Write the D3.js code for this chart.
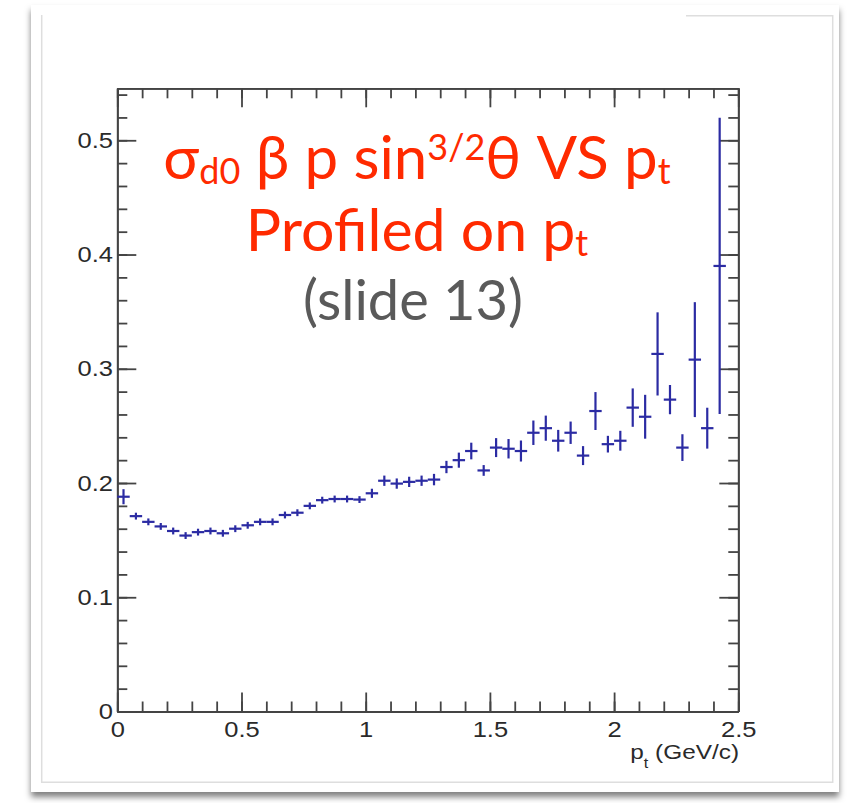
<!DOCTYPE html>
<html>
<head>
<meta charset="utf-8">
<script src="https://cdn.jsdelivr.net/npm/d3@7"></script>
<style>
  html, body { margin: 0; padding: 0; background: #fff; }
  svg { display: block; }
</style>
</head>
<body>
<div id="chart"></div>
<script>
// ────────────────────────────────────────────────────────────────────────────
// data (0.05 GeV/c bins)
// ────────────────────────────────────────────────────────────────────────────
const binWidth = 0.05;
const binCenters = [
  0.025, 0.075, 0.125, 0.175, 0.225, 0.275, 0.325, 0.375, 0.425, 0.475,
  0.525, 0.575, 0.625, 0.675, 0.725, 0.775, 0.825, 0.875, 0.925, 0.975,
  1.025, 1.075, 1.125, 1.175, 1.225, 1.275, 1.325, 1.375, 1.425, 1.475,
  1.525, 1.575, 1.625, 1.675, 1.725, 1.775, 1.825, 1.875, 1.925, 1.975,
  2.025, 2.075, 2.125, 2.175, 2.225, 2.275, 2.325, 2.375, 2.425
];
const profMean = [
  0.188, 0.171, 0.166, 0.162, 0.158, 0.154, 0.157, 0.158, 0.156, 0.160,
  0.163, 0.166, 0.166, 0.172, 0.174, 0.180, 0.185, 0.186, 0.186, 0.1855,
  0.191, 0.202, 0.1995, 0.201, 0.202, 0.203, 0.214, 0.220, 0.228, 0.211,
  0.231, 0.230, 0.228, 0.244, 0.248, 0.237, 0.244, 0.224, 0.263, 0.234,
  0.237, 0.266, 0.258, 0.313, 0.273, 0.231, 0.308, 0.248, 0.390
];
const profErr = [
  0.0066, 0.003, 0.003, 0.003, 0.003, 0.003, 0.003, 0.003, 0.003, 0.003,
  0.003, 0.003, 0.003, 0.003, 0.003, 0.003, 0.003, 0.003, 0.003, 0.003,
  0.004, 0.0045, 0.0045, 0.0045, 0.0045, 0.005, 0.0054, 0.0066, 0.0073, 0.0047,
  0.0083, 0.0085, 0.0092, 0.0107, 0.011, 0.0095, 0.0098, 0.0083, 0.0166, 0.0073,
  0.0087, 0.0168, 0.0192, 0.0364, 0.0128, 0.0117, 0.0503, 0.0179, 0.1297
];

const xTicks      = [0, 0.5, 1, 1.5, 2, 2.5];
const xTickLabels = ["0", "0.5", "1", "1.5", "2", "2.5"];
const yTicks      = [0, 0.1, 0.2, 0.3, 0.4, 0.5];
const yTickLabels = ["0", "0.1", "0.2", "0.3", "0.4", "0.5"];

const titleLine2 = "Profiled on p";
const titleLine3 = "(slide 13)";

// ────────────────────────────────────────────────────────────────────────────
// canvas
// ────────────────────────────────────────────────────────────────────────────
const W = 851, H = 803;
const svg = d3.select("#chart").append("svg")
  .attr("width", W).attr("height", H);

// photo frame with drop shadow
const defs = svg.append("defs");
defs.append("filter")
    .attr("id", "shadow")
    .attr("x", "-5%").attr("y", "-5%")
    .attr("width", "110%").attr("height", "112%")
  .append("feDropShadow")
    .attr("dx", 0).attr("dy", 5)
    .attr("stdDeviation", 3)
    .attr("flood-color", "#000")
    .attr("flood-opacity", 0.5);

svg.append("rect")
  .attr("x", 31).attr("y", 5)
  .attr("width", 808).attr("height", 787)
  .attr("fill", "#fff")
  .attr("filter", "url(#shadow)");

// inner thin border of the pasted image
const border = svg.append("g")
  .attr("stroke", "#dedede").attr("stroke-width", 1.5).attr("fill", "none");
border.append("path").attr("d", "M41.7,15 V782.3 H832.7 V15.7 H686");

// ────────────────────────────────────────────────────────────────────────────
// scales
// ────────────────────────────────────────────────────────────────────────────
const x = d3.scaleLinear().domain([0, 2.5]).range([117.3, 738.3]);
const y = d3.scaleLinear().domain([0, 0.5455]).range([711.5, 88.3]);

const axisColor = "#444";
const textColor = "#2a2a2a";
const stretch = 1.16;   // ROOT text looks a little wide

function styleAxis(g) {
  g.select(".domain").attr("stroke", axisColor).attr("stroke-width", 1.8);
  g.selectAll(".tick line").attr("stroke", axisColor).attr("stroke-width", 1.8);
  g.selectAll("text")
    .attr("fill", textColor)
    .style("font-family", "'Liberation Sans', Arial, sans-serif")
    .style("font-size", "22px");
}

const xMinor = d3.range(0, 2.51, 0.1);
const yMinor = d3.range(0, 0.545, 0.02);

// bottom
svg.append("g")
  .attr("transform", `translate(0,${y(0)})`)
  .call(d3.axisBottom(x).tickValues(xMinor).tickSize(-10).tickSizeOuter(0).tickFormat(""))
  .call(styleAxis);
const gxb = svg.append("g")
  .attr("transform", `translate(0,${y(0)})`)
  .call(d3.axisBottom(x).tickValues(xTicks).tickSize(-19).tickSizeOuter(0)
    .tickPadding(10).tickFormat((d, i) => xTickLabels[i]))
  .call(styleAxis);
gxb.selectAll("text").attr("transform", `scale(${stretch},1)`);

// top
svg.append("g")
  .attr("transform", `translate(0,${y.range()[1]})`)
  .call(d3.axisTop(x).tickValues(xMinor).tickSize(-10).tickSizeOuter(0).tickFormat(""))
  .call(styleAxis);
svg.append("g")
  .attr("transform", `translate(0,${y.range()[1]})`)
  .call(d3.axisTop(x).tickValues(xTicks).tickSize(-19).tickSizeOuter(0).tickFormat(""))
  .call(styleAxis);

// left
svg.append("g")
  .attr("transform", `translate(${x(0)},0)`)
  .call(d3.axisLeft(y).tickValues(yMinor).tickSize(-10).tickSizeOuter(0).tickFormat(""))
  .call(styleAxis);
const gyl = svg.append("g")
  .attr("transform", `translate(${x(0)},0)`)
  .call(d3.axisLeft(y).tickValues(yTicks).tickSize(-19).tickSizeOuter(0)
    .tickPadding(3.7).tickFormat((d, i) => yTickLabels[i]))
  .call(styleAxis);
gyl.selectAll("text").attr("transform", `scale(${stretch},1)`);

// right
svg.append("g")
  .attr("transform", `translate(${x(2.5)},0)`)
  .call(d3.axisRight(y).tickValues(yMinor).tickSize(-10).tickSizeOuter(0).tickFormat(""))
  .call(styleAxis);
svg.append("g")
  .attr("transform", `translate(${x(2.5)},0)`)
  .call(d3.axisRight(y).tickValues(yTicks).tickSize(-19).tickSizeOuter(0).tickFormat(""))
  .call(styleAxis);

// x axis title
const xt = svg.append("text")
  .attr("transform", `translate(739,759) scale(${stretch},1)`)
  .attr("text-anchor", "end")
  .attr("fill", textColor)
  .style("font-family", "'Liberation Sans', Arial, sans-serif")
  .style("font-size", "21px");
xt.append("tspan").text("p");
xt.append("tspan").attr("dy", 9).style("font-size", "14px").text("t");
xt.append("tspan").attr("dy", -9).text(" (GeV/c)");

// ────────────────────────────────────────────────────────────────────────────
// profile points: bin-width bar + error bar
// ────────────────────────────────────────────────────────────────────────────
const pts = binCenters.map((c, i) => ({ c, m: profMean[i], e: profErr[i] }));
const markG = svg.append("g")
  .attr("stroke", "#2b2ba3")
  .attr("stroke-width", 2.2)
  .attr("fill", "none");

markG.selectAll("line.h")
  .data(pts).enter().append("line")
    .attr("class", "h")
    .attr("x1", d => x(d.c - binWidth / 2))
    .attr("x2", d => x(d.c + binWidth / 2))
    .attr("y1", d => y(d.m))
    .attr("y2", d => y(d.m));

markG.selectAll("line.v")
  .data(pts).enter().append("line")
    .attr("class", "v")
    .attr("x1", d => x(d.c))
    .attr("x2", d => x(d.c))
    .attr("y1", d => y(d.m - d.e))
    .attr("y2", d => y(d.m + d.e));

// ────────────────────────────────────────────────────────────────────────────
// slide annotation
// ────────────────────────────────────────────────────────────────────────────
const red = "#ff2a00";
const titleFont = "Lato, 'Open Sans', sans-serif";
const cx = 417;
const fs = 59, fsSub = 36;

const t1 = svg.append("text")
  .attr("x", cx).attr("y", 179)
  .attr("text-anchor", "middle")
  .attr("fill", red)
  .style("font-family", titleFont)
  .style("font-size", "60px");
t1.append("tspan").text("σ");
t1.append("tspan").attr("dy", 5).style("font-size", fsSub + "px").text("d0");
t1.append("tspan").attr("dy", -5).text(" β p sin");
t1.append("tspan").attr("dy", -19).style("font-size", fsSub + "px").text("3/2");
t1.append("tspan").attr("dy", 19).text("θ VS p");
t1.append("tspan").attr("dy", 5).style("font-size", fsSub + "px").text("t");

const t2 = svg.append("text")
  .attr("x", cx).attr("y", 251)
  .attr("text-anchor", "middle")
  .attr("fill", red)
  .style("font-family", titleFont)
  .style("font-size", fs + "px");
t2.append("tspan").text(titleLine2);
t2.append("tspan").attr("dy", 5).style("font-size", fsSub + "px").text("t");

svg.append("text")
  .attr("x", cx - 4).attr("y", 320)
  .attr("text-anchor", "middle")
  .attr("fill", "#5a5a5a")
  .style("font-family", titleFont)
  .style("font-size", "56px")
  .text(titleLine3);
</script>
</body>
</html>
